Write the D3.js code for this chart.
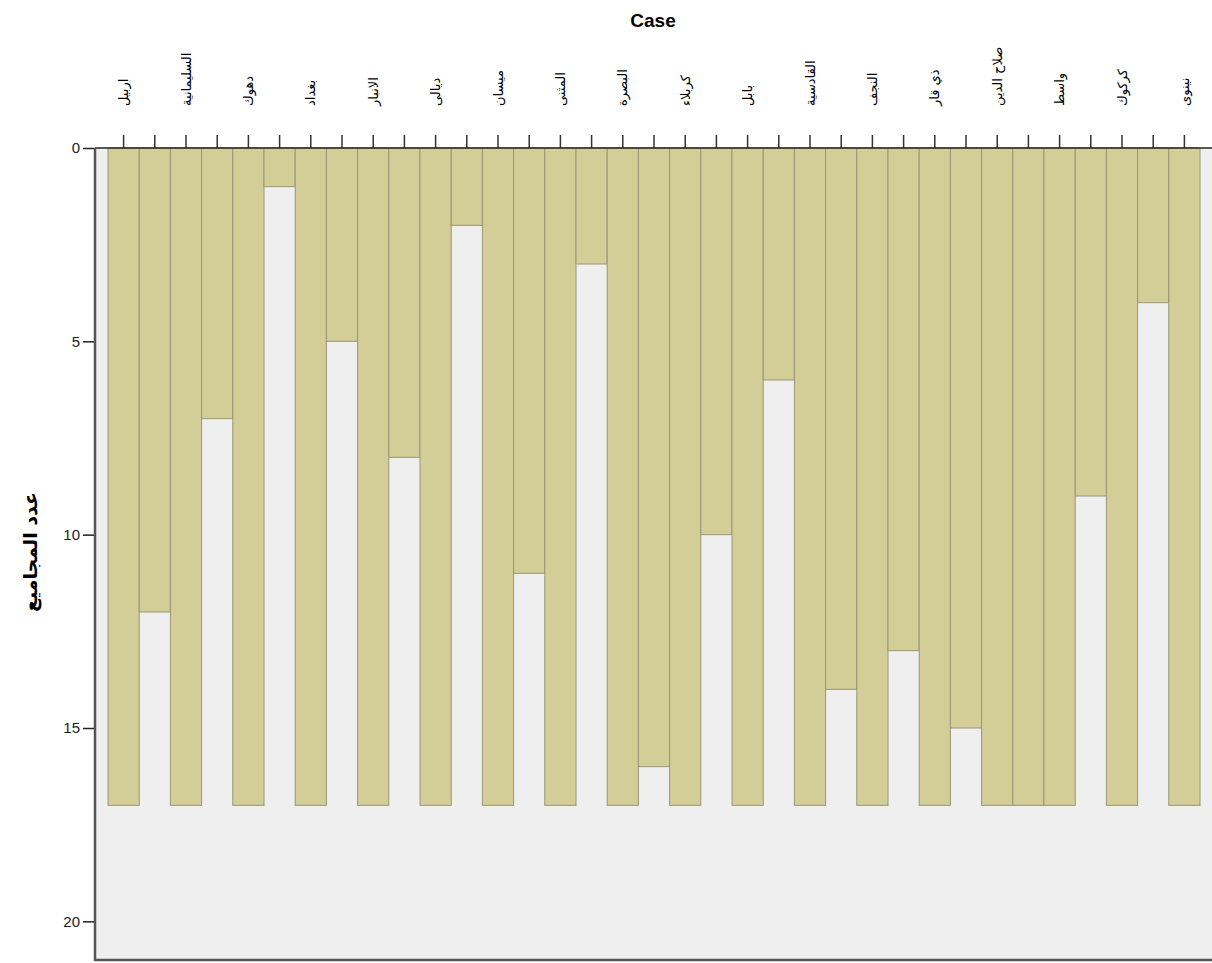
<!DOCTYPE html>
<html>
<head>
<meta charset="utf-8">
<script src="https://cdn.jsdelivr.net/npm/d3@7"></script>
<style>
  body { margin: 0; background: #fff; }
  text { font-family: "Liberation Sans", Arial, sans-serif; }
</style>
</head>
<body>
<script>
// cases in dendrogram order (left to right)
var cases = ["اربيل", "السليمانية", "دهوك", "بغداد", "الانبار", "ديالى", "ميسان", "المثنى",
    "البصرة", "كربلاء", "بابل", "القادسية", "النجف", "ذي قار", "صلاح الدين", "واسط", "كركوك", "نينوى"];
// number of clusters at which each neighbouring pair joins (gap columns)
var joinLevels = [12, 7, 1, 5, 8, 2, 11, 3, 16, 10, 6, 14, 13, 15, 17, 9, 4];
var yTicks = [0, 5, 10, 15, 20];
var fullDepth = cases.length - 1;

var width = 1212, height = 963;
var plotLeft = 95, plotTop = 148, plotBottom = 960, plotRight = 1212;

var svg = d3.select("body").append("svg")
    .attr("width", width)
    .attr("height", height);

// columns: case, gap, case, gap, ...
var columns = [];
cases.forEach(function(c, i){
    columns.push({kind: "case", name: c, value: fullDepth});
    if(i < joinLevels.length){
        columns.push({kind: "gap", value: joinLevels[i]});
    }
});

var x = d3.scaleBand()
    .domain(d3.range(columns.length))
    .range([108, 1200])
    .padding(0);

var y = d3.scaleLinear()
    .domain([0, 21])
    .range([plotTop, plotBottom]);

// plot background
svg.append("rect")
    .attr("x", plotLeft)
    .attr("y", plotTop)
    .attr("width", plotRight - plotLeft)
    .attr("height", plotBottom - plotTop)
    .attr("fill", "#efefef");

// bars
svg.selectAll("rect.bar")
    .data(columns)
    .enter().append("rect")
    .attr("class", "bar")
    .attr("x", function(d, i){ return x(i); })
    .attr("y", y(0))
    .attr("width", x.bandwidth())
    .attr("height", function(d){ return y(d.value) - y(0); })
    .attr("fill", "#d3ce97")
    .attr("stroke", "#9a9676")
    .attr("stroke-width", 1);

// top axis with ticks at each column
var topAxis = svg.append("g")
    .attr("transform", "translate(0," + plotTop + ")")
    .call(d3.axisTop(x).tickSize(13).tickFormat(""));
topAxis.select(".domain").remove();
topAxis.selectAll("line").attr("stroke", "#333").attr("stroke-width", 1.5);

svg.append("line")
    .attr("x1", plotLeft).attr("x2", plotRight)
    .attr("y1", plotTop).attr("y2", plotTop)
    .attr("stroke", "#222").attr("stroke-width", 1.5);

// case labels
svg.selectAll("text.case")
    .data(columns.map(function(d, i){ return {d: d, i: i}; }).filter(function(o){ return o.d.kind === "case"; }))
    .enter().append("text")
    .attr("class", "case")
    .attr("transform", function(o){
        return "translate(" + (x(o.i) + x.bandwidth() / 2) + ",106) rotate(-90)";
    })
    .attr("dy", "0.35em")
    .attr("text-anchor", "start")
    .style("font-family", "'DejaVu Sans', sans-serif")
    .style("font-size", "13px")
    .attr("fill", "#000")
    .text(function(o){ return o.d.name; });

// left axis
var leftAxis = svg.append("g")
    .attr("transform", "translate(" + plotLeft + ",0)")
    .call(d3.axisLeft(y).tickValues(yTicks).tickSize(12).tickPadding(3));
leftAxis.select(".domain").remove();
leftAxis.selectAll("line").attr("stroke", "#222").attr("stroke-width", 1.5);
leftAxis.selectAll("text")
    .style("font-size", "15px")
    .style("font-family", "'Liberation Sans', Arial, sans-serif")
    .attr("fill", "#222");

svg.append("line")
    .attr("x1", plotLeft).attr("x2", plotLeft)
    .attr("y1", plotTop).attr("y2", plotBottom + 1)
    .attr("stroke", "#555").attr("stroke-width", 2.5);

svg.append("line")
    .attr("x1", plotLeft).attr("x2", plotRight)
    .attr("y1", plotBottom).attr("y2", plotBottom)
    .attr("stroke", "#555").attr("stroke-width", 2.5);

// titles
svg.append("text")
    .attr("x", 653)
    .attr("y", 27)
    .attr("text-anchor", "middle")
    .style("font-size", "19px")
    .style("font-weight", "bold")
    .text("Case");

svg.append("text")
    .attr("transform", "translate(30,552) rotate(-90)")
    .attr("dy", "0.35em")
    .attr("text-anchor", "middle")
    .style("font-family", "'DejaVu Sans', sans-serif")
    .style("font-size", "19px")
    .style("font-weight", "bold")
    .text("عدد المجاميع");
</script>
</body>
</html>
